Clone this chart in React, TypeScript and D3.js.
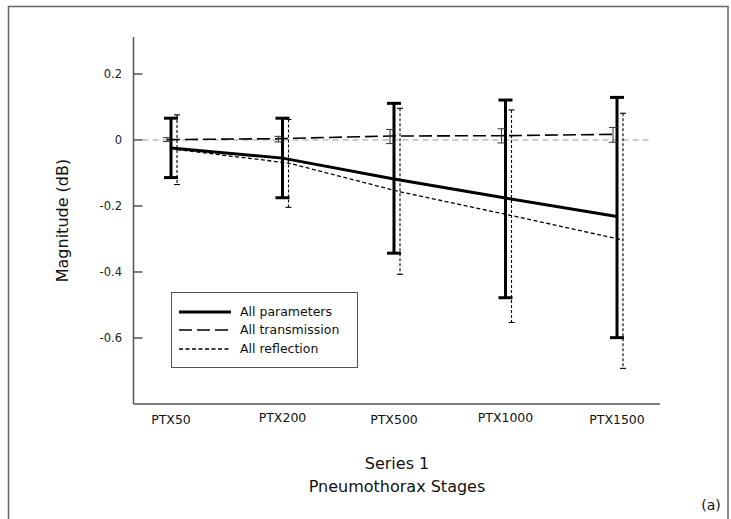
import React from "react";
import * as d3 from "d3";

const categories = ["PTX50", "PTX200", "PTX500", "PTX1000", "PTX1500"];

const paramsMean = [-0.024, -0.055, -0.118, -0.176, -0.232];
const paramsHigh = [0.066, 0.066, 0.111, 0.121, 0.129];
const paramsLow = [-0.114, -0.175, -0.343, -0.478, -0.599];

const transMean = [0.001, 0.004, 0.012, 0.013, 0.017];
const transHigh = [0.007, 0.011, 0.032, 0.034, 0.038];
const transLow = [-0.005, -0.006, -0.011, -0.009, -0.007];

const reflMean = [-0.029, -0.07, -0.157, -0.229, -0.303];
const reflHigh = [0.076, 0.062, 0.096, 0.091, 0.081];
const reflLow = [-0.135, -0.204, -0.407, -0.553, -0.692];

const yTicks = [0.2, 0, -0.2, -0.4, -0.6];
const legendLabels = ["All parameters", "All transmission", "All reflection"];

const W = 731;
const H = 519;
const FONT = "'DejaVu Sans', Verdana, sans-serif";

export default function App() {
  const axisLeft = 133.5;
  const axisRight = 660;
  const axisTop = 37;
  const axisBottom = 404;

  const y = d3.scaleLinear().domain([-0.8, 0.312]).range([axisBottom, axisTop]);
  const x = d3.scalePoint<string>().domain(categories).range([171, 617]);

  const series = [
    { mean: paramsMean, hi: paramsHigh, lo: paramsLow, off: 0, width: 3, dash: null as string | null, barDash: null as string | null, cap: 7, barW: 3 },
    { mean: transMean, hi: transHigh, lo: transLow, off: -4, width: 1.6, dash: "13,5", barDash: null, cap: 4, barW: 1 },
    { mean: reflMean, hi: reflHigh, lo: reflLow, off: 6, width: 1.3, dash: "4,2.5", barDash: "3,2", cap: 3, barW: 1.1 },
  ];

  const line = (s: typeof series[0]) =>
    d3
      .line<number>()
      .x((_, i) => (x(categories[i]) as number) + s.off)
      .y((d) => y(d))(s.mean) || "";

  const fmt = (t: number) => (t === 0 ? "0" : d3.format(".1f")(t).replace("\u2212", "-"));

  const legendX = 171;
  const legendY = 292;
  const rowYs = [312, 330, 349];

  return (
    <svg width={W} height={H} style={{ position: "absolute", left: 0, top: 0, background: "#fff" }}>
      <rect x={8.5} y={6.5} width={719.5} height={620} fill="none" stroke="#666" strokeWidth={1.5} />

      {/* zero reference line */}
      <line x1={axisLeft + 9} x2={650} y1={y(0)} y2={y(0)} stroke="#999" strokeWidth={1} strokeDasharray="6,4" />

      {/* axes */}
      <line x1={axisLeft} x2={axisLeft} y1={axisTop} y2={axisBottom} stroke="#555" strokeWidth={1.5} />
      <line x1={axisLeft} x2={axisRight} y1={axisBottom} y2={axisBottom} stroke="#555" strokeWidth={1.5} />
      {yTicks.map((t) => (
        <g key={t}>
          <line x1={axisLeft} x2={axisLeft + 9} y1={y(t)} y2={y(t)} stroke="#555" strokeWidth={1.5} />
          <text x={122} y={y(t)} dy="0.35em" textAnchor="end" fontFamily={FONT} fontSize={11.5} fill="#222">
            {fmt(t)}
          </text>
        </g>
      ))}
      {categories.map((c, i) => (
        <text key={c} x={x(c) as number} y={i % 2 === 1 ? 417.5 : 420} dy="0.35em" textAnchor="middle" fontFamily={FONT} fontSize={12.5} fill="#111">
          {c}
        </text>
      ))}

      {/* series lines */}
      {series.map((s, k) => (
        <path key={k} d={line(s)} fill="none" stroke="#000" strokeWidth={s.width} strokeDasharray={s.dash || undefined} />
      ))}

      {/* error bars */}
      {series.map((s, k) =>
        categories.map((c, i) => {
          const cx = (x(c) as number) + s.off;
          return (
            <g key={`${k}-${c}`} stroke={k === 1 ? "#333" : "#000"}>
              <line x1={cx} x2={cx} y1={y(s.hi[i])} y2={y(s.lo[i])} strokeWidth={s.barW} strokeDasharray={s.barDash || undefined} />
              <line x1={cx - s.cap} x2={cx + s.cap} y1={y(s.hi[i])} y2={y(s.hi[i])} strokeWidth={s.barW} />
              <line x1={cx - s.cap} x2={cx + s.cap} y1={y(s.lo[i])} y2={y(s.lo[i])} strokeWidth={s.barW} />
            </g>
          );
        })
      )}

      {/* legend */}
      <rect x={legendX + 0.5} y={legendY + 0.5} width={186} height={75} fill="#fff" stroke="#555" strokeWidth={1} />
      {legendLabels.map((l, i) => (
        <g key={l}>
          <line x1={179} x2={231} y1={rowYs[i]} y2={rowYs[i]} stroke="#000" strokeWidth={series[i].width} strokeDasharray={series[i].dash || undefined} />
          <text x={240} y={rowYs[i]} dy="0.35em" fontFamily={FONT} fontSize={12.5} fill="#111">
            {l}
          </text>
        </g>
      ))}

      {/* titles */}
      <text transform={`translate(62,${(axisTop + axisBottom) / 2}) rotate(-90)`} textAnchor="middle" dy="0.35em" fontFamily={FONT} fontSize={16} fill="#111">
        Magnitude (dB)
      </text>
      <text x={397} y={463} dy="0.35em" textAnchor="middle" fontFamily={FONT} fontSize={16} fill="#111">
        Series 1
      </text>
      <text x={397} y={486} dy="0.35em" textAnchor="middle" fontFamily={FONT} fontSize={16} fill="#111">
        Pneumothorax Stages
      </text>
      <text x={711} y={505} dy="0.35em" textAnchor="middle" fontFamily={FONT} fontSize={14} fill="#111">
        (a)
      </text>
    </svg>
  );
}
